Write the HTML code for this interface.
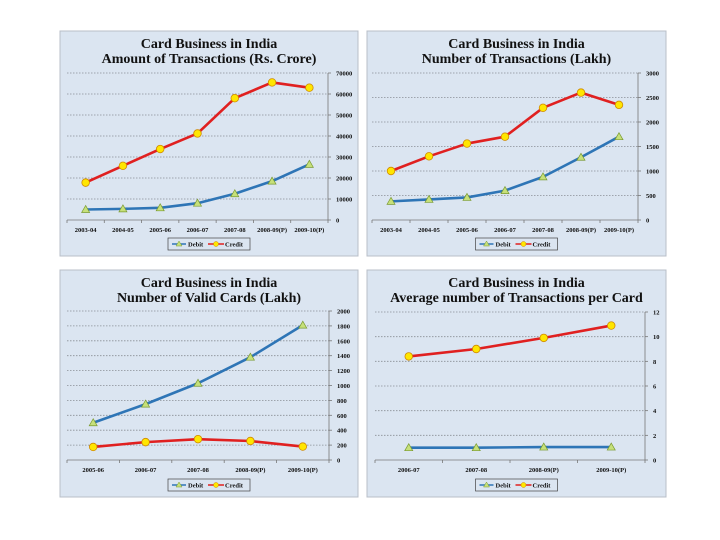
<!DOCTYPE html>
<html><head><meta charset="utf-8">
<style>
html,body{margin:0;padding:0;background:#fff;width:720px;height:540px;overflow:hidden}
svg{display:block}
text{font-family:"Liberation Serif",serif;font-weight:bold;fill:#111}
</style></head>
<body>
<svg id="root" width="720" height="540" viewBox="0 0 720 540"></svg>
<script>
// Chart 1: Amount of Transactions (Rs. Crore)
const cats1 = ["2003-04","2004-05","2005-06","2006-07","2007-08","2008-09(P)","2009-10(P)"];
const debit1 = [5000,5300,5800,8000,12500,18500,26500];
const credit1 = [17800,25800,33800,41200,58000,65500,63000];
const ticks1 = [0,10000,20000,30000,40000,50000,60000,70000];
// Chart 2: Number of Transactions (Lakh)
const cats2 = ["2003-04","2004-05","2005-06","2006-07","2007-08","2008-09(P)","2009-10(P)"];
const debit2 = [380,420,460,600,880,1280,1700];
const credit2 = [1000,1300,1560,1700,2290,2600,2350];
const ticks2 = [0,500,1000,1500,2000,2500,3000];
// Chart 3: Number of Valid Cards (Lakh)
const cats3 = ["2005-06","2006-07","2007-08","2008-09(P)","2009-10(P)"];
const debit3 = [500,750,1030,1380,1810];
const credit3 = [175,240,280,255,180];
const ticks3 = [0,200,400,600,800,1000,1200,1400,1600,1800,2000];
// Chart 4: Average number of Transactions per Card
const cats4 = ["2006-07","2007-08","2008-09(P)","2009-10(P)"];
const debit4 = [1.0,1.0,1.05,1.05];
const credit4 = [8.4,9.0,9.9,10.9];
const ticks4 = [0,2,4,6,8,10,12];

const NS="http://www.w3.org/2000/svg";
const root=document.getElementById('root');
function mk(tag,attrs,parent){const e=document.createElementNS(NS,tag);for(const k in attrs)e.setAttribute(k,attrs[k]);parent.appendChild(e);return e;}

function chart(o){
  const g=mk('g',{},root);
  
  
  const bg=mk('rect',{x:o.bx,y:o.by,width:o.bw,height:o.bh,fill:'#dbe5f1',stroke:'#b8bfc8','stroke-width':1},g);
  
  
  const cx=o.bx+o.bw/2;
  o.title.forEach((t,i)=>{
    const tt=mk('text',{x:cx,y:o.by+17+i*15,'text-anchor':'middle','font-size':14},g);
    tt.textContent=t;
    
    
  });
  const max=o.ticks[o.ticks.length-1];
  const y=v=>o.y0-(v/max)*(o.y0-o.yTop);
  const bw=(o.xR-o.xL)/o.cats.length;
  const x=i=>o.xL+bw*(i+0.5);
  o.ticks.forEach(t=>{
    if(t>0){const gl=mk('line',{x1:o.xL,x2:o.xR,y1:y(t),y2:y(t),stroke:'#8a8f96','stroke-width':0.8,'stroke-dasharray':'1.5,1.5'},g);
    
    }
    const tl=mk('text',{x:o.xR+8,y:y(t)+2.5,'font-size':6.5},g);
    tl.textContent=t;
    
    
    mk('line',{x1:o.xR,x2:o.xR+3,y1:y(t),y2:y(t),stroke:'#777','stroke-width':0.8},g);
  });
  const ax=mk('line',{x1:o.xR,x2:o.xR,y1:o.yTop,y2:o.y0,stroke:'#777','stroke-width':0.8},g);
  
  
  const xa=mk('line',{x1:o.xL,x2:o.xR,y1:o.y0,y2:o.y0,stroke:'#777','stroke-width':0.8},g);
  
  
  o.cats.forEach((c,i)=>{
    mk('line',{x1:o.xL+bw*i,x2:o.xL+bw*i,y1:o.y0,y2:o.y0+3,stroke:'#777','stroke-width':0.8},g);
    const xl=mk('text',{x:x(i),y:o.y0+12,'text-anchor':'middle','font-size':6.5},g);
    xl.textContent=c;
    
    
  });
  mk('line',{x1:o.xR,x2:o.xR,y1:o.y0,y2:o.y0+3,stroke:'#777','stroke-width':0.8},g);
  function series(vals,color,marker,name){
    const pts=vals.map((v,i)=>x(i)+','+y(v)).join(' ');
    const pl=mk('polyline',{points:pts,fill:'none',stroke:color,'stroke-width':2.6,'stroke-linejoin':'round'},g);
    
    
    vals.forEach((v,i)=>{
      let m;
      if(marker==='tri'){const px=x(i),py=y(v);m=mk('polygon',{points:`${px},${py-4} ${px-4},${py+3} ${px+4},${py+3}`,fill:'#c6e07a',stroke:'#7a9a30','stroke-width':0.7},g);}
      else m=mk('circle',{cx:x(i),cy:y(v),r:3.8,fill:'#ffe600',stroke:'#d08a00','stroke-width':0.8},g);
      
      
    });
  }
  series(o.credit,'#e02020','circ','credit');
  series(o.debit,'#2e75b6','tri','debit');
  const lx=cx-41, ly=o.by+o.bh-18;
  const lg=mk('g',{},g);
  
  
  mk('rect',{x:lx,y:ly,width:82,height:12,fill:'#dbe5f1',stroke:'#444','stroke-width':0.7},lg);
  mk('line',{x1:lx+4,x2:lx+18,y1:ly+6,y2:ly+6,stroke:'#2e75b6','stroke-width':1.5},lg);
  mk('polygon',{points:`${lx+11},${ly+3} ${lx+8},${ly+8} ${lx+14},${ly+8}`,fill:'#c6e07a',stroke:'#7a9a30','stroke-width':0.5},lg);
  const t1=mk('text',{x:lx+20,y:ly+8.5,'font-size':6.5},lg);t1.textContent='Debit';
  
  
  mk('line',{x1:lx+40,x2:lx+56,y1:ly+6,y2:ly+6,stroke:'#e02020','stroke-width':1.5},lg);
  mk('circle',{cx:lx+48,cy:ly+6,r:2.5,fill:'#ffe600',stroke:'#d08a00','stroke-width':0.5},lg);
  const t2=mk('text',{x:lx+57,y:ly+8.5,'font-size':6.5},lg);t2.textContent='Credit';
  
  
}

chart({name:'amount-of-transactions-chart',bx:60,by:31,bw:298,bh:225,title:['Card Business in India','Amount of Transactions (Rs. Crore)'],
  cats:cats1,debit:debit1,credit:credit1,ticks:ticks1,xL:67,xR:328,yTop:73,y0:220});
chart({name:'number-of-transactions-chart',bx:367,by:31,bw:299,bh:225,title:['Card Business in India','Number of Transactions (Lakh)'],
  cats:cats2,debit:debit2,credit:credit2,ticks:ticks2,xL:372,xR:638,yTop:73,y0:220});
chart({name:'valid-cards-chart',bx:60,by:270,bw:298,bh:227,title:['Card Business in India','Number of Valid Cards (Lakh)'],
  cats:cats3,debit:debit3,credit:credit3,ticks:ticks3,xL:67,xR:329,yTop:311,y0:460});
chart({name:'avg-transactions-per-card-chart',bx:367,by:270,bw:299,bh:227,title:['Card Business in India','Average number of Transactions per Card'],
  cats:cats4,debit:debit4,credit:credit4,ticks:ticks4,xL:375,xR:645,yTop:312,y0:460});
</script>
</body></html>
